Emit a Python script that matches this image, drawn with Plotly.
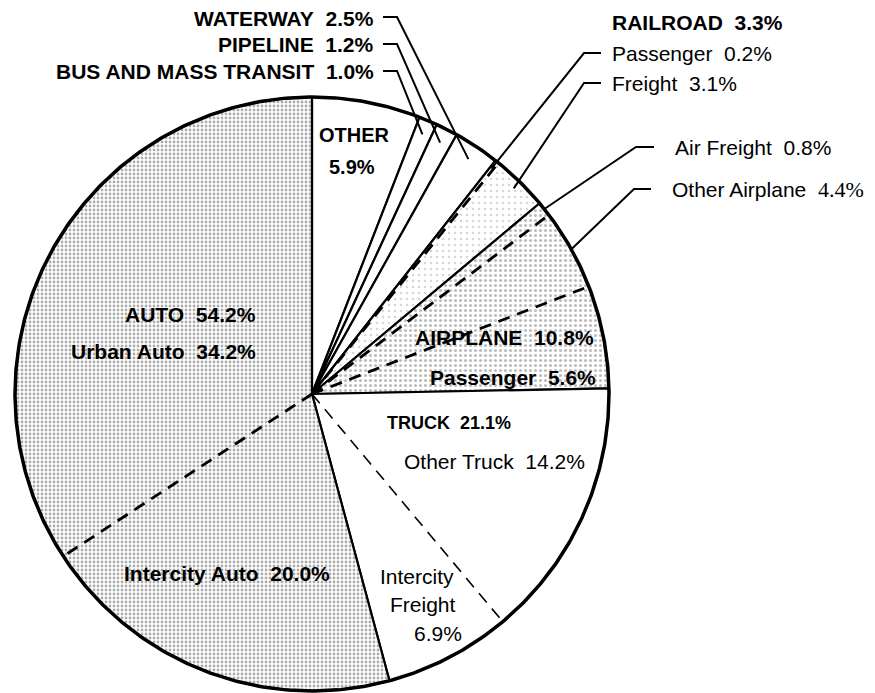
import numpy as np
import plotly.graph_objects as go

# ---------------- data ----------------
group_names = ["OTHER", "BUS AND MASS TRANSIT", "PIPELINE", "WATERWAY",
               "RAILROAD", "AIRPLANE", "TRUCK", "AUTO"]
group_values = [5.9, 1.0, 1.2, 2.5, 3.3, 10.8, 21.1, 54.2]

sub_names = ["Other", "Bus and Mass Transit", "Pipeline", "Waterway",
             "Passenger", "Freight",
             "Air Freight", "Other Airplane", "Passenger",
             "Other Truck", "Intercity Freight",
             "Intercity Auto", "Urban Auto"]
sub_group = ["OTHER", "BUS AND MASS TRANSIT", "PIPELINE", "WATERWAY",
             "RAILROAD", "RAILROAD",
             "AIRPLANE", "AIRPLANE", "AIRPLANE",
             "TRUCK", "TRUCK",
             "AUTO", "AUTO"]
sub_values = [5.9, 1.0, 1.2, 2.5,
              0.2, 3.1,
              0.8, 4.4, 5.6,
              14.2, 6.9,
              20.0, 34.2]

# ---------------- geometry helpers ----------------
CX, CY, R = 312.0, 394.0, 297.0          # layout: pie centre/radius in screen px
OFF = 8                                  # page body margin
W, H = 875 - OFF, 693 - OFF


def X(px):
    return (px - CX) / R


def Y(py):
    return (CY - py) / R


def ang(cum):                       # clockwise from 12 o'clock, degrees
    return cum / 100.0 * 360.0


def pt(theta_deg, r=1.0):
    t = np.radians(theta_deg)
    return r * np.sin(t), r * np.cos(t)


fig = go.Figure()

# fill styles per group
fills = {
    "AUTO": dict(shape=".", fgcolor="#5a5a5a", bgcolor="#ffffff", size=4, solidity=0.4),
    "AIRPLANE": dict(shape=".", fgcolor="#7a7a7a", bgcolor="#ffffff", size=5, solidity=0.3),
    "RAILROAD": dict(shape=".", fgcolor="#b0b0b0", bgcolor="#ffffff", size=6, solidity=0.15),
}

# group wedges (solid borders)
cum = 0.0
group_bounds = {}
for name, v in zip(group_names, group_values):
    a0, a1 = ang(cum), ang(cum + v)
    group_bounds[name] = (a0, a1)
    n = max(4, int((a1 - a0) * 2))
    th = np.linspace(a0, a1, n)
    xs = [0.0] + list(np.sin(np.radians(th))) + [0.0]
    ys = [0.0] + list(np.cos(np.radians(th))) + [0.0]
    kw = {"fillcolor": "#ffffff"}
    if name in fills:
        kw["fillpattern"] = fills[name]
    fig.add_trace(go.Scatter(x=xs, y=ys, mode="lines", fill="toself",
                             line=dict(color="black", width=2.2),
                             hoverinfo="skip", showlegend=False, **kw))
    cum += v

# outer circle (thicker)
th = np.linspace(0, 360, 721)
fig.add_trace(go.Scatter(x=np.sin(np.radians(th)), y=np.cos(np.radians(th)),
                         mode="lines", line=dict(color="black", width=3.5),
                         hoverinfo="skip", showlegend=False))

# dashed sub-boundaries
cum = 0.0
sub_mid = []
for i, (name, g, v) in enumerate(zip(sub_names, sub_group, sub_values)):
    a0, a1 = ang(cum), ang(cum + v)
    sub_mid.append((a0 + a1) / 2)
    if i + 1 < len(sub_values) and sub_group[i + 1] == g:
        x1, y1 = pt(a1)
        wdt = 1.6 if g == "TRUCK" else 2.8
        fig.add_trace(go.Scatter(x=[0, x1], y=[0, y1], mode="lines",
                                 line=dict(color="black", width=wdt, dash="12px,8px"),
                                 hoverinfo="skip", showlegend=False))
    cum += v

# leader lines  (label side points are layout positions in px)
leader_layout = {
    "WATERWAY": ((383, 17), (397, 17), 0.95),
    "PIPELINE": ((383, 44), (397, 44), 0.95),
    "BUS AND MASS TRANSIT": ((383, 71), (397, 71), 0.95),
}
for gname, (p0, p1, rr) in leader_layout.items():
    a0, a1 = group_bounds[gname]
    ex, ey = pt((a0 + a1) / 2, rr)
    fig.add_trace(go.Scatter(x=[X(p0[0]), X(p1[0]), ex], y=[Y(p0[1]), Y(p1[1]), ey],
                             mode="lines", line=dict(color="black", width=2),
                             hoverinfo="skip", showlegend=False))

sub_leader_layout = {
    4: ((601, 53), (584, 53), 0.97),     # rail passenger
    5: ((601, 83), (584, 83), 0.97),     # rail freight
    6: ((654, 147), (636, 147), 1.0),    # air freight
    7: ((651, 189), (634, 189), 1.0),    # other airplane
}
for idx, (p0, p1, rr) in sub_leader_layout.items():
    ex, ey = pt(sub_mid[idx], rr)
    fig.add_trace(go.Scatter(x=[X(p0[0]), X(p1[0]), ex], y=[Y(p0[1]), Y(p1[1]), ey],
                             mode="lines", line=dict(color="black", width=2),
                             hoverinfo="skip", showlegend=False))


# ---------------- labels ----------------
SP = "\u00a0\u00a0"
FONT = "Liberation Sans, Arial, sans-serif"
SERIF = "Liberation Serif, Times New Roman, serif"


def pct(v):
    return f"{v:.1f}%"


def lab(text, px, py, anchor="center", size=19, bold=False, family=FONT):
    t = f"<b>{text}</b>" if bold else text
    fig.add_annotation(x=X(px), y=Y(py), text=t, showarrow=False,
                       xanchor=anchor, yanchor="middle",
                       font=dict(family=family, size=size, color="black"))


gv = dict(zip(group_names, group_values))
sv = sub_values

# outside, upper left
lab(f"WATERWAY{SP}{pct(gv['WATERWAY'])}", 376, 18, "right", 21, True)
lab(f"PIPELINE{SP}{pct(gv['PIPELINE'])}", 376, 44, "right", 21, True)
lab(f"BUS AND MASS TRANSIT{SP}{pct(gv['BUS AND MASS TRANSIT'])}", 376, 71, "right", 21, True)

# outside, upper right
lab(f"RAILROAD{SP}{pct(gv['RAILROAD'])}", 610, 22, "left", 21, True)
lab(f"{sub_names[4]}{SP}{pct(sv[4])}", 610, 53, "left", 21)
lab(f"{sub_names[5]}{SP}{pct(sv[5])}", 610, 83, "left", 21)
lab(f"{sub_names[6]}{SP}{pct(sv[6])}", 673, 147, "left", 21)
lab(sub_names[7], 670, 189, "left", 21)
lab(pct(sv[7]), 816, 189, "left", 22, False, SERIF)

# inside
lab("OTHER", 354, 135, "center", 20, True)
lab(pct(gv["OTHER"]), 352, 167, "center", 20, True)

lab(f"AUTO{SP}{pct(gv['AUTO'])}", 258, 314, "right", 21, True)
lab(f"{sub_names[12]}{SP}{pct(sv[12])}", 258, 351, "right", 21, True)
lab(f"{sub_names[11]}{SP}{pct(sv[11])}", 332, 573, "right", 21, True)

lab(f"AIRPLANE{SP}{pct(gv['AIRPLANE'])}", 596, 337, "right", 21, True)
lab(f"{sub_names[8]}{SP}{pct(sv[8])}", 598, 377, "right", 21, True)

lab(f"TRUCK{SP}{pct(gv['TRUCK'])}", 385, 423, "left", 18, True)
lab(f"{sub_names[9]}{SP}{pct(sv[9])}", 587, 461, "right", 21)

lab("Intercity", 417, 576, "center", 21)
lab("Freight", 423, 604, "center", 21)
lab(pct(sv[10]), 438, 633, "center", 21)

fig.update_layout(
    width=W, height=H,
    margin=dict(l=0, r=0, t=0, b=0),
    paper_bgcolor="white", plot_bgcolor="white",
    showlegend=False,
    xaxis=dict(range=[X(OFF), X(OFF + W)], visible=False, fixedrange=True),
    yaxis=dict(range=[Y(OFF + H), Y(OFF)], visible=False, fixedrange=True),
)

fig.write_html("out.html")
